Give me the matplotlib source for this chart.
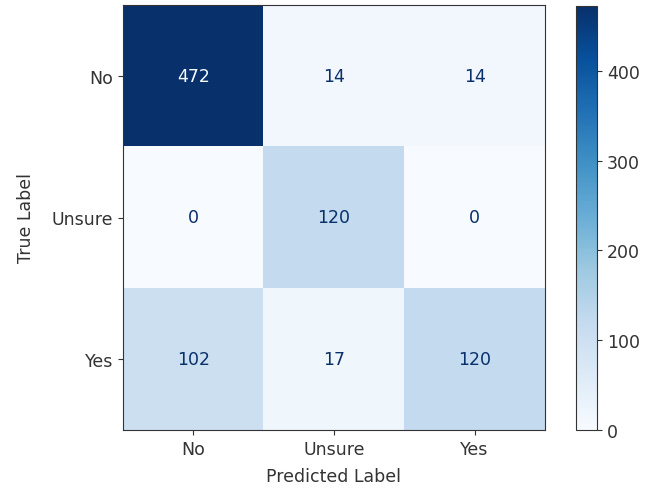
import numpy as np
import matplotlib
matplotlib.use("Agg")
import matplotlib.pyplot as plt

labels = ["No", "Unsure", "Yes"]
counts = [
    [472, 14, 14],
    [0, 120, 0],
    [102, 17, 120],
]

cm = np.array(counts)
cmap = plt.get_cmap("Blues")
fs = 12.5

fig = plt.figure(figsize=(6.47, 4.89), dpi=100)
ax = fig.add_axes([123 / 647, 1 - 431 / 489, 422 / 647, 425 / 489])
cax = fig.add_axes([576 / 647, 1 - 431 / 489, 21 / 647, 424 / 489])

im = ax.imshow(cm, cmap=cmap, vmin=0, vmax=cm.max(), aspect="auto")
cb = fig.colorbar(im, cax=cax)
cb.set_ticks([0, 100, 200, 300, 400])
cb.ax.tick_params(labelsize=fs, colors="#333333", labelcolor="#333333")
cb.outline.set_edgecolor("#333333")

thresh = (cm.max() + cm.min()) / 2.0
dark = cmap(1.0)
light = cmap(0.0)
for i in range(cm.shape[0]):
    for j in range(cm.shape[1]):
        color = light if cm[i, j] > thresh else dark
        ax.text(j, i, f"{cm[i, j]}", ha="center", va="center",
                color=color, fontsize=fs)

ax.set_xticks(range(len(labels)))
ax.set_xticklabels(labels, fontsize=fs)
ax.set_yticks(range(len(labels)))
ax.set_yticklabels(labels, fontsize=fs)
ax.tick_params(colors="#333333", labelcolor="#333333")
for s in ax.spines.values():
    s.set_edgecolor("#333333")
ax.set_xlabel("Predicted Label", fontsize=fs, color="#333333", labelpad=7)
ax.set_ylabel("True Label", fontsize=fs, color="#333333", labelpad=12)

fig.savefig("out.png", dpi=100)
